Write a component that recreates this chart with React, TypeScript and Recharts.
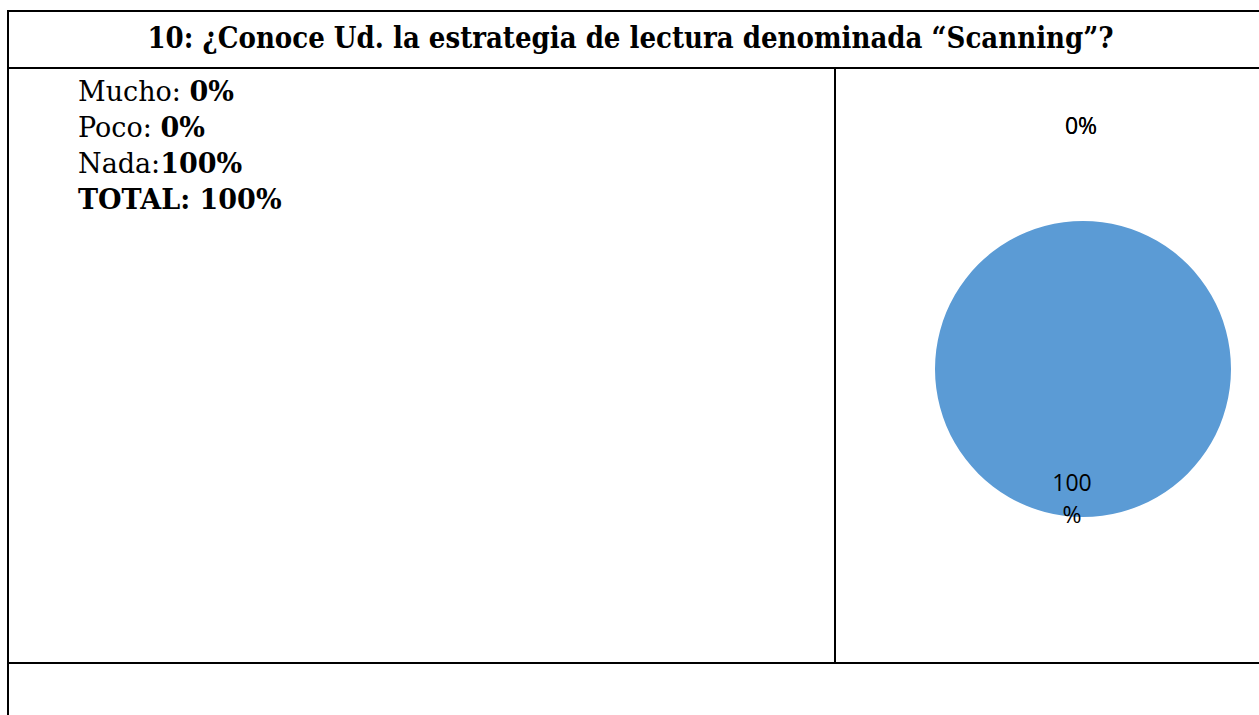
import { PieChart, Pie, Cell } from "recharts";

const categories = ["Mucho", "Poco", "Nada"];
const values = [0, 0, 100];
const colors = ["#ED7D31", "#A5A5A5", "#5B9BD5"];

const title = "10: ¿Conoce Ud. la estrategia de lectura denominada “Scanning”?";

const data = categories.map((name, i) => ({ name, value: values[i] }));
const total = values.reduce((a, b) => a + b, 0);

const RADIAN = Math.PI / 180;

function renderLabel(props: any) {
  const { cx, cy, midAngle, outerRadius, value } = props;
  const pct = Math.round((value / total) * 100);
  const font = { fontFamily: "'Open Sans', sans-serif", fontSize: 23, fill: "#000" };
  if (value === 0) {
    const r = outerRadius + 96;
    const x = cx + r * Math.cos(-midAngle * RADIAN) - 2;
    const y = cy + r * Math.sin(-midAngle * RADIAN);
    return (
      <text x={x} y={y} textAnchor="middle" dominantBaseline="central" style={font}>
        {pct}%
      </text>
    );
  }
  // wide slice: excel wrapped the label on two lines
  const r = outerRadius - 18;
  const x = cx + r * Math.cos(-midAngle * RADIAN) - 11;
  const y = cy + r * Math.sin(-midAngle * RADIAN);
  return (
    <text x={x} y={y} textAnchor="middle" style={font}>
      <tspan x={x} dy={-8}>{pct}</tspan>
      <tspan x={x} dy={32}>%</tspan>
    </text>
  );
}

const line = "#000";

export default function App() {
  return (
    <div style={{ position: "absolute", left: 0, top: 0, width: 1259, height: 715, overflow: "hidden", background: "#fff" }}>
      {/* table borders */}
      <div style={{ position: "absolute", left: 7, top: 10, width: 1260, height: 2, background: line }} />
      <div style={{ position: "absolute", left: 7, top: 10, width: 2, height: 710, background: line }} />
      <div style={{ position: "absolute", left: 7, top: 67, width: 1260, height: 2, background: line }} />
      <div style={{ position: "absolute", left: 834, top: 67, width: 2, height: 597, background: line }} />
      <div style={{ position: "absolute", left: 7, top: 662, width: 1260, height: 2, background: line }} />

      <div
        style={{
          position: "absolute",
          left: 9,
          top: 10,
          width: 1243,
          height: 55,
          display: "flex",
          alignItems: "center",
          justifyContent: "center",
          fontFamily: "'DejaVu Serif Condensed', 'DejaVu Serif', serif",
          fontWeight: 700,
          fontSize: 29,
          color: "#000",
          whiteSpace: "nowrap",
        }}
      >
        {title}
      </div>

      <div
        style={{
          position: "absolute",
          left: 78,
          top: 74,
          fontFamily: "'DejaVu Serif', serif",
          fontSize: 27,
          lineHeight: "36px",
          color: "#000",
        }}
      >
        <div>
          {categories[0]}: <b>{values[0]}%</b>
        </div>
        <div>
          {categories[1]}: <b>{values[1]}%</b>
        </div>
        <div>
          {categories[2]}:<b>{values[2]}%</b>
        </div>
        <div>
          <b>TOTAL: {total}%</b>
        </div>
      </div>

      <div style={{ position: "absolute", left: 836, top: 69 }}>
        <PieChart width={423} height={593}>
          <Pie
            data={data}
            dataKey="value"
            nameKey="name"
            cx={242}
            cy={295}
            outerRadius={148}
            startAngle={90}
            endAngle={-270}
            stroke="none"
            labelLine={false}
            label={renderLabel}
            isAnimationActive={false}
          >
            {data.map((d, i) => (
              <Cell key={d.name} fill={colors[i]} />
            ))}
          </Pie>
        </PieChart>
      </div>
    </div>
  );
}
